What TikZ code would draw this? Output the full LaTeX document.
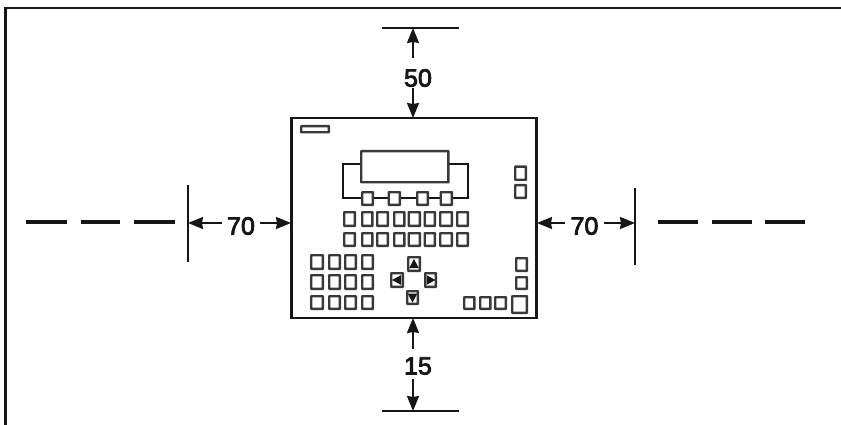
\documentclass[tikz,border=0pt]{standalone}
\usepackage{fontspec}
\usetikzlibrary{arrows.meta,calc}
\newfontfamily\dimfont[FakeBold=3.2]{Liberation Sans}
\definecolor{ink}{HTML}{161616}
\tikzset{
  frameline/.style={draw=ink,line width=2.8pt},
  devbox/.style={draw=ink,line width=2.6pt,inner sep=0pt,outer sep=0pt,rectangle},
  keybox/.style={draw=ink!85,line width=2.4pt,inner sep=0pt,outer sep=0pt,rectangle,rounded corners=0.3pt,fill=white},
  extline/.style={draw=ink,line width=2.1pt},
  dashpiece/.style={draw=ink,line width=3.2pt},
  wire/.style={draw=ink,line width=2.2pt},
  dimarrow/.style={draw=ink,line width=1.7pt,-{Stealth[length=15pt,width=12pt,inset=1pt]}},
  dimlabel/.style={font=\dimfont\fontsize{25}{25}\selectfont,text=ink,inner sep=0pt,outer sep=0pt},
  glyph/.style={fill=ink,draw=none}
}
\newcommand\kb[5]{%
  \pgfmathsetmacro\kbw{#4-#2-2.4}\pgfmathsetmacro\kbh{#5-#3-2.4}%
  \node[keybox,minimum width=\kbw pt,minimum height=\kbh pt] (#1) at ({(#2+#4)/2},{(#3+#5)/2}) {};}
\begin{document}
\begin{tikzpicture}[x=1pt,y=-1pt]
\useasboundingbox (0,0) rectangle (841,425);
% outer frame (only two sides are printed)
\coordinate (fa) at (5.5,425);
\coordinate (fb) at (5.5,8);
\coordinate (fc) at (841,8);
\draw[frameline] (fa) -- (fb) -- (fc);
% device
\node[devbox,minimum width=245.5pt,minimum height=200pt] (dev) at (414,218) {};
\kb{badge}{300}{125}{330}{133.5}
% display wiring first so keys sit on it
\coordinate (wl) at (343,198);
\coordinate (wr) at (468,198);
\coordinate (dl) at (360,164);
\coordinate (dr) at (449,164);
\draw[wire] (dl) -- (dl -| wl) -- (wl) -- (wr) -- (dr -| wr) -- (dr);
\kb{display}{360}{150}{449.5}{183.5}
\kb{s1}{361}{191}{374}{206}
\kb{s2}{387.5}{191}{401}{206}
\kb{s3}{416}{191}{429}{206}
\kb{s4}{439.5}{191}{453}{206}
% right keys, upper
\kb{ru1}{514}{165.5}{527}{181}
\kb{ru2}{514}{184}{527}{199}
% two rows of keys
\foreach \i/\a/\b in {1/343/356,2/361/373.5,3/376/389,4/393/405.5,5/407.5/421,6/423.5/436,7/439/453,8/456/469}{
  \kb{ra\i}{\a}{211}{\b}{227}
  \kb{rb\i}{\a}{232}{\b}{247}
}
% left key block
\foreach \r/\p/\q in {1/254/270,2/274/290,3/295/310}{
  \foreach \c/\a/\b in {1/310/324,2/328/341,3/344/357,4/361/374}{
    \kb{l\r\c}{\a}{\p}{\b}{\q}
  }
}
% navigation keys
\kb{up}{407}{256}{421}{272}
\kb{lt}{390}{272}{404}{288}
\kb{rt}{424}{272}{437}{288}
\kb{dn}{406}{290}{419}{305}
\fill[glyph] ($(up.center)+(-4.8,4)$) -- ($(up.center)+(4.8,4)$) -- ($(up.center)+(0,-5)$) -- cycle;
\fill[glyph] ($(dn.center)+(-4.8,-4)$) -- ($(dn.center)+(4.8,-4)$) -- ($(dn.center)+(0,5)$) -- cycle;
\fill[glyph] ($(lt.center)+(4,-4.8)$) -- ($(lt.center)+(4,4.8)$) -- ($(lt.center)+(-5,0)$) -- cycle;
\fill[glyph] ($(rt.center)+(-4,-4.8)$) -- ($(rt.center)+(-4,4.8)$) -- ($(rt.center)+(5,0)$) -- cycle;
% right keys, lower
\kb{rl1}{515}{257}{528}{272}
\kb{rl2}{515}{276}{528}{290}
\kb{b1}{463}{296}{475.5}{310}
\kb{b2}{479}{296}{491.5}{310}
\kb{b3}{494}{296}{507}{310}
\kb{b4}{511}{295}{528}{314}
% top dimension
\coordinate (tl) at (382,28); \coordinate (tr) at (459,28); \coordinate (tm) at (413,28);
\coordinate (tb) at (413,118);
\draw[extline] (tl) -- (tr);
\node[dimlabel] (lab50) at (418,78) {50};
\draw[dimarrow] ($(tm |- lab50.north)+(0,-11)$) -- (tm);
\draw[dimarrow] ($(tm |- lab50.south)+(0,1)$) -- (tb);
% bottom dimension
\coordinate (bl) at (382,411); \coordinate (br) at (459,411); \coordinate (bm) at (413,411);
\coordinate (bt) at (413,318);
\draw[extline] (bl) -- (br);
\node[dimlabel] (lab15) at (418,366) {15};
\draw[dimarrow] ($(bm |- lab15.north)+(0,-8)$) -- (bt);
\draw[dimarrow] ($(bm |- lab15.south)+(0,4)$) -- (bm);
% left dimension
\coordinate (lvt) at (188,185); \coordinate (lvb) at (188,262);
\coordinate (lm) at (188,223); \coordinate (dm1) at (291,223);
\draw[extline] (lvt) -- (lvb);
\node[dimlabel,minimum width=38pt] (labL) at (241,226) {70};
\draw[dimarrow] (labL.west |- lm) -- (lm);
\draw[dimarrow] (labL.east |- lm) -- (dm1);
\foreach \a/\b in {26/67,80.5/120,134/175}{
  \coordinate (da) at (\a,222); \coordinate (db) at (\b,222);
  \draw[dashpiece] (da) -- (db);
}
% right dimension
\coordinate (rvt) at (635,188); \coordinate (rvb) at (635,265);
\coordinate (rm) at (635,223); \coordinate (dm2) at (537,223);
\draw[extline] (rvt) -- (rvb);
\node[dimlabel,minimum width=39pt] (labR) at (584.5,226) {70};
\draw[dimarrow] (labR.west |- rm) -- (dm2);
\draw[dimarrow] (labR.east |- rm) -- (rm);
\foreach \a/\b in {658/698,712/752,765/805}{
  \coordinate (da) at (\a,222); \coordinate (db) at (\b,222);
  \draw[dashpiece] (da) -- (db);
}
\end{tikzpicture}
\end{document}
